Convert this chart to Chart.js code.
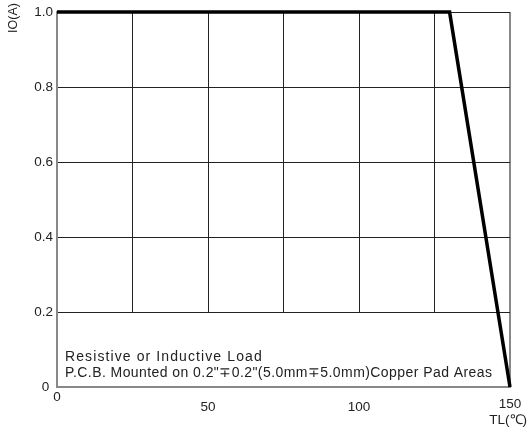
<!DOCTYPE html>
<html>
<head>
<meta charset="utf-8">
<script src="https://cdn.jsdelivr.net/npm/chart.js@4"></script>
<style>
  html, body { margin: 0; padding: 0; background: #fff; }
  #wrap { width: 528px; height: 432px; }
</style>
</head>
<body>
<div id="wrap"><canvas id="myChart" width="528" height="432"></canvas></div>
<script>
// derating curve: IO(A) vs TL(C)
let tempPoints = [0, 130, 150];
let currentPoints = [1.0, 1.0, 0];
let xTickLabels = [0, 50, 100, 150];
let yTickLabels = [0, 0.2, 0.4, 0.6, 0.8, 1.0];
let noteLines = [
  "Resistive or Inductive Load",
  'P.C.B. Mounted on 0.2"\u22130.2"(5.0mm\u22135.0mm)Copper Pad Areas',
];

let font = "Liberation Sans, Arial, sans-serif";
let gray = "#888";

let data = tempPoints.map(function (t, i) {
  return { x: t, y: currentPoints[i] };
});

// blank box behind the note (vertical grid stops at the 0.2 line)
let noteBox = {
  id: "noteBox",
  beforeDatasetsDraw(chart) {
    let ctx = chart.ctx;
    let area = chart.chartArea;
    let top = chart.scales.y.getPixelForValue(0.2);
    ctx.save();
    ctx.fillStyle = "#fff";
    ctx.fillRect(area.left + 1, top + 1, area.right - area.left - 2, area.bottom - top - 2);
    ctx.restore();
  },
};

// x tick labels, axis titles and the note are placed by hand like the datasheet
let extraText = {
  id: "extraText",
  afterDraw(chart) {
    let ctx = chart.ctx;
    let xs = chart.scales.x;
    let area = chart.chartArea;
    ctx.save();
    ctx.fillStyle = "#222";
    ctx.font = "13.5px " + font;
    ctx.textAlign = "center";
    ctx.textBaseline = "middle";
    let offs = [10, 20, 20, 17];
    xTickLabels.forEach(function (v, i) {
      ctx.fillText(String(v), xs.getPixelForValue(v), area.bottom + offs[i]);
    });
    ctx.textAlign = "right";
    ctx.fillText("TL(\u2103)", 527, area.bottom + 33);

    ctx.textAlign = "left";
    ctx.font = "14px " + font;
    ctx.letterSpacing = "1.1px";
    ctx.fillText(noteLines[0], area.left + 8, area.bottom - 30);
    ctx.letterSpacing = "0.43px";
    ctx.fillText(noteLines[1], area.left + 8, area.bottom - 14);
    ctx.letterSpacing = "0px";

    ctx.font = "12.5px " + font;
    ctx.translate(14, 18);
    ctx.rotate(-Math.PI / 2);
    ctx.textAlign = "center";
    ctx.fillText("IO(A)", 0, 0);
    ctx.restore();
  },
};

var ctx = document.getElementById("myChart").getContext("2d");
var myChart = new Chart(ctx, {
  type: "line",
  data: {
    datasets: [
      {
        data: data,
        borderColor: "#000",
        borderWidth: 3.5,
        pointRadius: 0,
        tension: 0,
        fill: false,
        clip: false,
      },
    ],
  },
  options: {
    responsive: false,
    animation: false,
    layout: { padding: { left: 0, right: 18, top: 8, bottom: 45 } },
    plugins: { legend: { display: false }, tooltip: { enabled: false } },
    scales: {
      x: {
        type: "linear",
        min: 0,
        max: 150,
        ticks: { stepSize: 25, display: false },
        afterFit: function (s) {
          s.height = 0;
        },
        grid: {
          drawTicks: false,
          color: function (c) {
            return c.index === 0 || c.index === 6 ? gray : "#222";
          },
          lineWidth: function (c) {
            return c.index === 0 || c.index === 6 ? 2 : 1;
          },
        },
        border: { color: gray, width: 2 },
      },
      y: {
        min: 0,
        max: 1,
        afterFit: function (s) {
          s.width = 57;
        },
        afterBuildTicks: function (s) {
          s.ticks = yTickLabels.map(function (v) {
            return { value: v };
          });
        },
        ticks: {
          padding: 4,
          color: "#222",
          font: { family: font, size: 13.5 },
          callback: function (v) {
            return v === 0 ? "0 " : v.toFixed(1);
          },
        },
        grid: {
          drawTicks: false,
          color: function (c) {
            return c.index === 0 ? gray : "#222";
          },
        },
        border: { color: gray, width: 2 },
      },
    },
  },
  plugins: [noteBox, extraText],
});
</script>
</body>
</html>
